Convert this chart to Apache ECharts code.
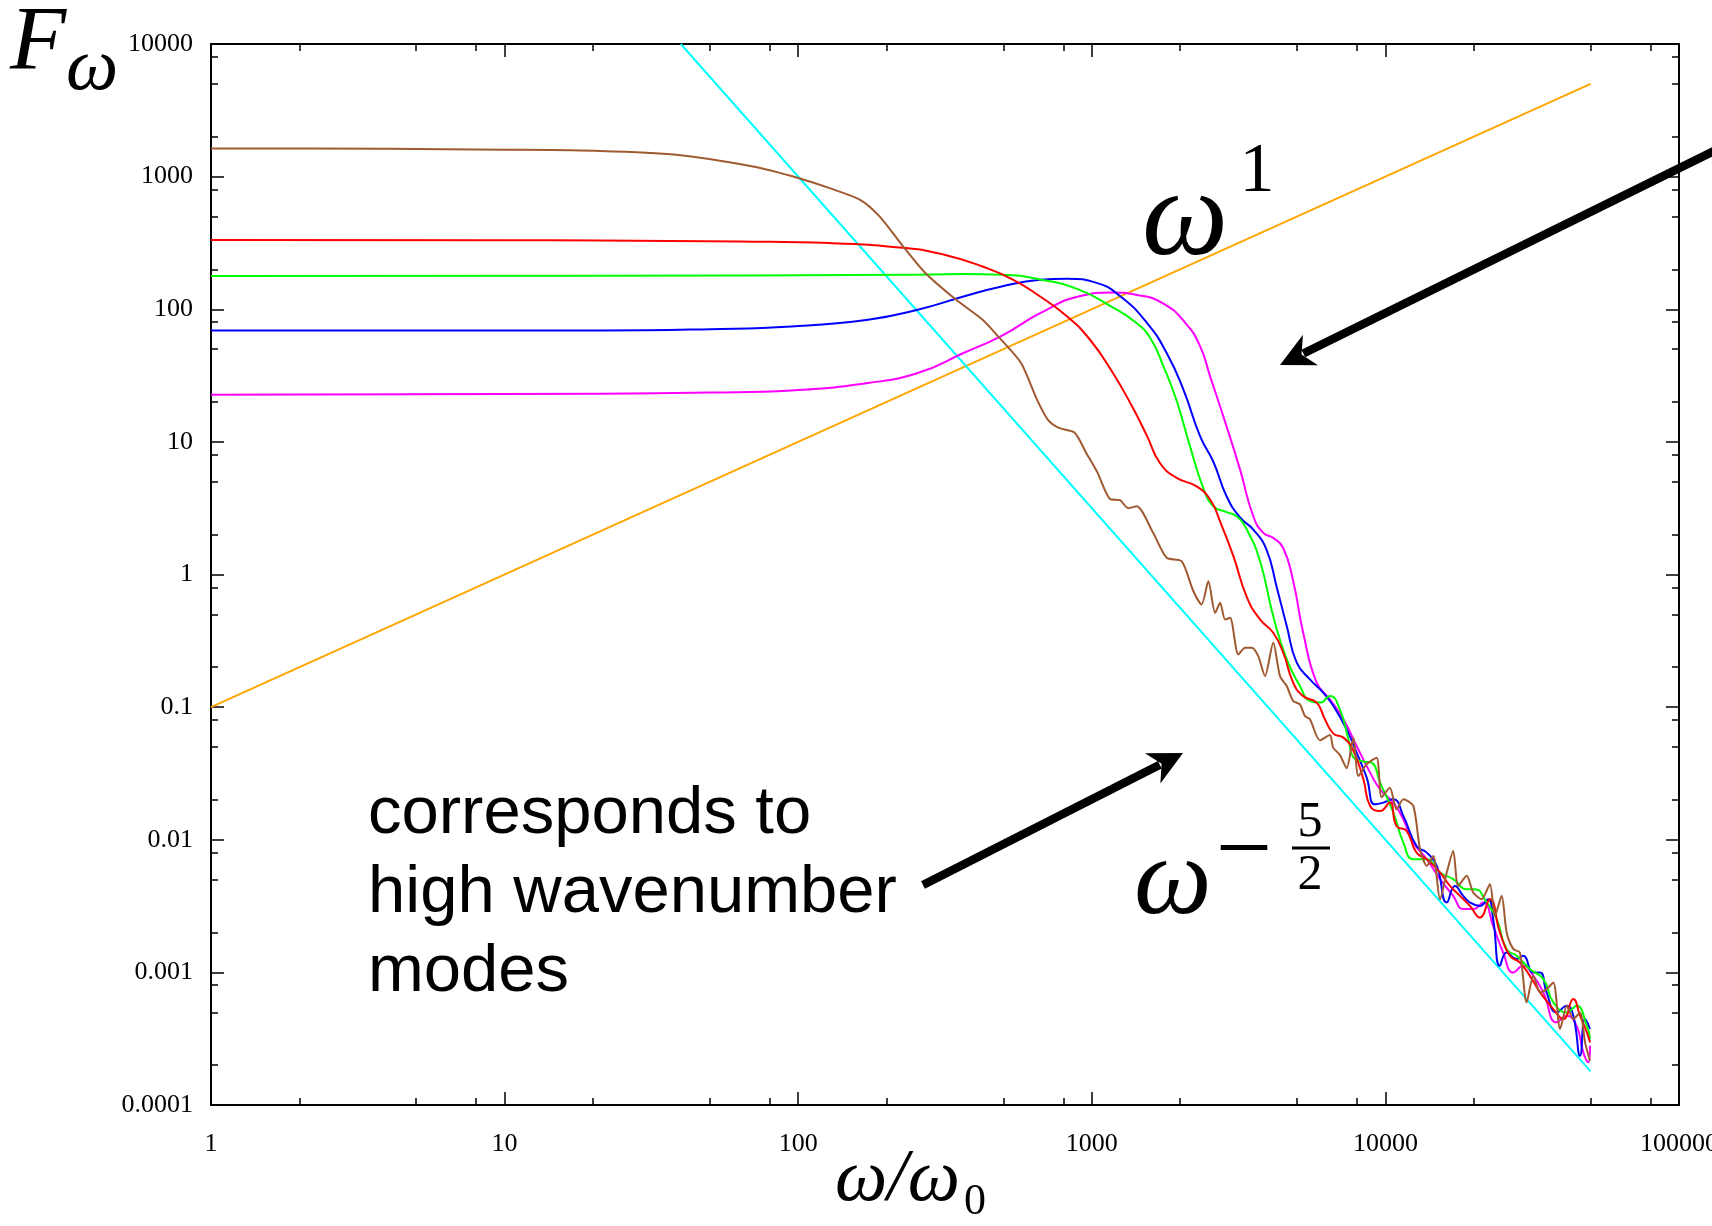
<!DOCTYPE html>
<html>
<head>
<meta charset="utf-8">
<script src="https://cdn.jsdelivr.net/npm/echarts@6/dist/echarts.min.js"></script>
<style>
html,body{margin:0;padding:0;background:#fff;}
#chart{width:1712px;height:1226px;}
</style>
</head>
<body>
<div id="chart"></div>
<script>
// ---- tick values / labels ----
const xMajorTicks = [1, 10, 100, 1000, 10000, 100000];
const xTickLabels = ['1', '10', '100', '1000', '10000', '100000'];
const xMinorTicks = [2, 5, 8, 20, 50, 80, 200, 500, 800, 2000, 5000, 8000, 20000, 50000, 80000];
const yMajorTicks = [0.0001, 0.001, 0.01, 0.1, 1, 10, 100, 1000, 10000];
const yTickLabels = ['0.0001', '0.001', '0.01', '0.1', '1', '10', '100', '1000', '10000'];
const yMinorTicks = [0.0002, 0.0005, 0.0008, 0.002, 0.005, 0.008, 0.02, 0.05, 0.08, 0.2, 0.5, 0.8,
                     2, 5, 8, 20, 50, 80, 200, 500, 800, 2000, 5000, 8000];

// ---- data, as [log10(ω/ω0), log10(Fω)] ----
const orangeLineLog = [[0, -1], [4.699, 3.699]];
const cyanLineLog = [[1.6, 4], [4.699, -3.747]];

const brownLog = [[0,3.213],[0.6,3.21],[1.0,3.203],[1.325,3.194],[1.585,3.165],[1.846,3.076],[2.003,2.988],[2.107,2.913],[2.211,2.825],[2.277,2.70],[2.355,2.48],[2.433,2.273],[2.538,2.071],[2.628,1.921],[2.681,1.795],[2.759,1.595],[2.811,1.33],[2.850,1.168],[2.888,1.105],[2.941,1.07],[2.981,0.917],[3.019,0.77],[3.062,0.57],[3.096,0.56],[3.124,0.50],[3.153,0.515],[3.209,0.314],[3.255,0.126],[3.306,0.10],[3.346,-0.126],[3.374,-0.226],[3.397,-0.051],[3.420,-0.289],[3.437,-0.213],[3.454,-0.339],[3.471,-0.326],[3.499,-0.603],[3.522,-0.552],[3.545,-0.552],[3.567,-0.616],[3.590,-0.766],[3.618,-0.514],[3.641,-0.766],[3.664,-0.841],[3.686,-0.954],[3.709,-0.98],[3.726,-1.067],[3.743,-1.092],[3.777,-1.25],[3.811,-1.21],[3.822,-1.305],[3.845,-1.36],[3.868,-1.46],[3.891,-1.23],[3.908,-1.52],[3.936,-1.43],[3.970,-1.381],[3.987,-1.68],[4.015,-1.607],[4.038,-1.770],[4.061,-1.695],[4.095,-1.745],[4.118,-2.072],[4.141,-2.197],[4.163,-2.122],[4.186,-2.448],[4.209,-2.247],[4.231,-2.084],[4.248,-2.348],[4.277,-2.272],[4.299,-2.398],[4.328,-2.448],[4.356,-2.335],[4.373,-2.574],[4.396,-2.423],[4.413,-2.699],[4.436,-2.825],[4.458,-2.850],[4.481,-3.226],[4.504,-3.026],[4.527,-3.151],[4.549,-3.126],[4.572,-3.076],[4.595,-3.427],[4.618,-3.252],[4.640,-3.352],[4.663,-3.302],[4.680,-3.528],[4.697,-3.666]];

const redLog = [[0,2.522],[1.0,2.52],[1.325,2.518],[1.8,2.51],[2.107,2.499],[2.367,2.461],[2.498,2.411],[2.628,2.322],[2.733,2.222],[2.824,2.096],[2.916,1.946],[2.994,1.770],[3.072,1.519],[3.137,1.268],[3.189,1.04],[3.232,0.841],[3.289,0.728],[3.357,0.665],[3.403,0.565],[3.437,0.40],[3.482,0.14],[3.528,-0.17],[3.573,-0.339],[3.618,-0.439],[3.652,-0.590],[3.686,-0.816],[3.720,-0.917],[3.766,-0.966],[3.794,-1.092],[3.823,-1.2],[3.857,-1.230],[3.891,-1.33],[3.925,-1.544],[3.948,-1.745],[3.982,-1.783],[4.015,-1.720],[4.038,-1.896],[4.072,-1.933],[4.106,-2.097],[4.141,-2.147],[4.186,-2.247],[4.220,-2.348],[4.254,-2.423],[4.288,-2.499],[4.322,-2.586],[4.356,-2.448],[4.390,-2.699],[4.424,-2.875],[4.458,-2.925],[4.492,-3.026],[4.527,-3.151],[4.572,-3.277],[4.606,-3.352],[4.640,-3.201],[4.663,-3.327],[4.686,-3.452],[4.697,-3.528]];

const greenLog = [[0,2.251],[1.325,2.252],[2.347,2.26],[2.563,2.265],[2.693,2.26],[2.824,2.225],[2.954,2.15],[3.059,2.03],[3.150,1.90],[3.200,1.78],[3.244,1.57],[3.289,1.31],[3.334,0.97],[3.380,0.65],[3.414,0.515],[3.459,0.47],[3.493,0.439],[3.528,0.339],[3.573,0.10],[3.618,-0.314],[3.664,-0.640],[3.709,-0.841],[3.743,-0.954],[3.777,-0.966],[3.811,-0.917],[3.845,-1.017],[3.874,-1.243],[3.891,-1.38],[3.925,-1.41],[3.953,-1.419],[3.982,-1.569],[4.027,-1.795],[4.061,-2.021],[4.095,-2.147],[4.141,-2.147],[4.186,-2.247],[4.231,-2.297],[4.277,-2.373],[4.305,-2.373],[4.345,-2.473],[4.379,-2.599],[4.413,-2.825],[4.447,-2.875],[4.492,-2.975],[4.538,-3.051],[4.572,-3.226],[4.618,-3.302],[4.651,-3.252],[4.686,-3.402],[4.697,-3.503]];

const blueLog = [[0,1.84],[1.325,1.840],[1.7,1.85],[1.977,1.870],[2.238,1.921],[2.407,1.996],[2.563,2.096],[2.693,2.172],[2.824,2.222],[2.915,2.23],[3.019,2.197],[3.096,2.10],[3.187,1.90],[3.255,1.67],[3.312,1.394],[3.369,1.042],[3.414,0.85],[3.459,0.59],[3.505,0.43],[3.550,0.339],[3.595,0.188],[3.629,-0.088],[3.664,-0.389],[3.698,-0.665],[3.743,-0.791],[3.788,-0.891],[3.823,-0.992],[3.868,-1.168],[3.902,-1.343],[3.936,-1.53],[3.964,-1.733],[3.993,-1.720],[4.027,-1.695],[4.061,-1.820],[4.106,-2.047],[4.141,-2.097],[4.175,-2.197],[4.209,-2.473],[4.237,-2.348],[4.265,-2.423],[4.288,-2.473],[4.322,-2.499],[4.350,-2.448],[4.367,-2.599],[4.390,-2.950],[4.413,-2.850],[4.447,-2.900],[4.469,-2.875],[4.504,-3.001],[4.527,-3.001],[4.549,-3.151],[4.583,-3.302],[4.618,-3.252],[4.640,-3.327],[4.663,-3.628],[4.680,-3.352],[4.697,-3.427]];

const magentaLog = [[0,1.355],[1.325,1.363],[1.7,1.372],[1.977,1.388],[2.238,1.444],[2.407,1.519],[2.563,1.67],[2.693,1.80],[2.824,1.97],[2.954,2.096],[3.072,2.127],[3.150,2.11],[3.241,2.047],[3.319,1.896],[3.369,1.72],[3.403,1.494],[3.459,1.117],[3.505,0.791],[3.550,0.439],[3.584,0.314],[3.618,0.276],[3.652,0.20],[3.686,-0.05],[3.720,-0.439],[3.766,-0.816],[3.811,-0.942],[3.857,-1.092],[3.902,-1.293],[3.948,-1.494],[3.982,-1.620],[4.027,-1.720],[4.061,-1.846],[4.095,-2.021],[4.141,-2.147],[4.186,-2.297],[4.231,-2.423],[4.265,-2.523],[4.299,-2.523],[4.333,-2.473],[4.367,-2.649],[4.401,-2.850],[4.436,-3.001],[4.469,-2.950],[4.504,-3.026],[4.538,-3.151],[4.583,-3.377],[4.618,-3.327],[4.651,-3.402],[4.674,-3.603],[4.691,-3.678],[4.697,-3.553]];

// ---- build ----
const toValues = pts => pts.map(p => [Math.pow(10, p[0]), Math.pow(10, p[1])]);
const labelFor = (ticks, labels) => v => {
  const i = ticks.findIndex(t => Math.abs(Math.log10(t) - Math.log10(v)) < 1e-6);
  return i >= 0 ? labels[i] : '';
};

const AXIS = { color: '#000', width: 2 };
const TICKSTYLE = { color: '#000', width: 1.5 };
const serif = '"Liberation Serif", "Times New Roman", serif';

function mkX(position, ticks, len, showLine, showLabel) {
  return {
    type: 'log', logBase: 10, min: 1, max: 100000, gridIndex: 0, position: position,
    axisLine: { show: showLine, onZero: false, lineStyle: AXIS },
    axisTick: { show: true, inside: true, length: len, lineStyle: TICKSTYLE, customValues: ticks },
    axisLabel: showLabel ? {
      show: true, customValues: ticks, margin: 26, color: '#000', fontFamily: serif, fontSize: 26,
      showMinLabel: true, showMaxLabel: true, hideOverlap: false,
      formatter: labelFor(xMajorTicks, xTickLabels)
    } : { show: false },
    splitLine: { show: false }, minorTick: { show: false }, minorSplitLine: { show: false }
  };
}
function mkY(position, ticks, len, showLine, showLabel) {
  return {
    type: 'log', logBase: 10, min: 0.0001, max: 10000, gridIndex: 0, position: position,
    axisLine: { show: showLine, onZero: false, lineStyle: AXIS },
    axisTick: { show: true, inside: true, length: len, lineStyle: TICKSTYLE, customValues: ticks },
    axisLabel: showLabel ? {
      show: true, customValues: ticks, margin: 18, color: '#000', fontFamily: serif, fontSize: 26,
      showMinLabel: true, showMaxLabel: true, hideOverlap: false,
      formatter: labelFor(yMajorTicks, yTickLabels)
    } : { show: false },
    splitLine: { show: false }, minorTick: { show: false }, minorSplitLine: { show: false }
  };
}

function line(name, pts, color, smooth) {
  return {
    name: name, type: 'line', xAxisIndex: 0, yAxisIndex: 0,
    data: toValues(pts), showSymbol: false, symbol: 'none', clip: true,
    smooth: smooth,
    lineStyle: { color: color, width: 2 }, itemStyle: { color: color },
    emphasis: { disabled: true }, animation: false
  };
}

function arrow(tail, tip) {
  const dx = tip[0] - tail[0], dy = tip[1] - tail[1];
  const L = Math.hypot(dx, dy), ux = dx / L, uy = dy / L, nx = -uy, ny = ux;
  const back = 34, half = 17, notch = 24;
  const c1 = [tip[0] - ux * back + nx * half, tip[1] - uy * back + ny * half];
  const c2 = [tip[0] - ux * back - nx * half, tip[1] - uy * back - ny * half];
  const nc = [tip[0] - ux * notch, tip[1] - uy * notch];
  return [
    { type: 'line', z: 100, shape: { x1: tail[0], y1: tail[1], x2: nc[0] - ux * 2, y2: nc[1] - uy * 2 },
      style: { stroke: '#000', lineWidth: 8.5 } },
    { type: 'polygon', z: 100, shape: { points: [tip, c1, nc, c2] }, style: { fill: '#000' } }
  ];
}

function txt(text, x, y, size, italic, align, family) {
  return { type: 'text', z: 100, x: x, y: y,
    style: { text: text, fontSize: size, fontStyle: italic ? 'italic' : 'normal',
      fontFamily: family || serif, fill: '#000', align: align || 'left', verticalAlign: 'middle' } };
}

const chart = echarts.init(document.getElementById('chart'), null, { renderer: 'canvas' });
chart.setOption({
  animation: false,
  backgroundColor: '#fff',
  grid: { left: 211, top: 44, width: 1468, height: 1061, containLabel: false, outerBoundsMode: 'none' },
  xAxis: [
    mkX('bottom', xMajorTicks, 13, true, true),
    mkX('bottom', xMinorTicks, 7, false, false),
    mkX('top', xMajorTicks, 13, true, false),
    mkX('top', xMinorTicks, 7, false, false)
  ],
  yAxis: [
    mkY('left', yMajorTicks, 13, true, true),
    mkY('left', yMinorTicks, 7, false, false),
    mkY('right', yMajorTicks, 13, true, false),
    mkY('right', yMinorTicks, 7, false, false)
  ],
  series: [
    line('ω^1', orangeLineLog, '#FFA500', false),
    line('ω^-5/2', cyanLineLog, '#00FFFF', false),
    line('magenta', magentaLog, '#FF00FF', 0.5),
    line('blue', blueLog, '#0000FF', 0.5),
    line('green', greenLog, '#00FF00', 0.5),
    line('red', redLog, '#FF0000', 0.5),
    line('brown', brownLog, '#A05A32', 0.25)
  ],
  graphic: [
    txt('F', 10, 45, 92, true),
    txt('ω', 66, 70, 74, true),
    txt('ω', 1142, 222, 122, true),
    txt('1', 1257, 173, 70, false, 'center'),
    txt('ω', 1134, 884, 110, true),
    txt('−', 1244, 855, 100, false, 'center'),
    txt('5', 1310, 823, 50, false, 'center'),
    txt('2', 1310, 876, 50, false, 'center'),
    { type: 'line', z: 100, shape: { x1: 1292, y1: 848, x2: 1330, y2: 848 }, style: { stroke: '#000', lineWidth: 3 } },
    txt('ω/ω', 835, 1181, 74, true),
    txt('0', 975, 1202, 44, false, 'center'),
    { type: 'text', z: 100, x: 368, y: 775,
      style: { text: 'corresponds to\nhigh wavenumber\nmodes', fontSize: 67, lineHeight: 79,
        fontFamily: '"Liberation Sans", Arial, Helvetica, sans-serif', fill: '#000',
        align: 'left', verticalAlign: 'top' } },
    ...arrow([1716, 150], [1280, 365]),
    ...arrow([923, 885], [1183, 753])
  ]
});
</script>
</body>
</html>
